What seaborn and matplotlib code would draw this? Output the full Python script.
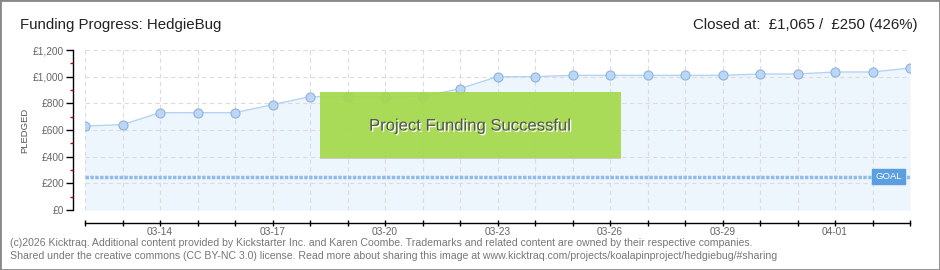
import matplotlib
matplotlib.use("Agg")
import matplotlib.pyplot as plt
import matplotlib.patheffects as pe
from matplotlib.patches import Rectangle
from matplotlib.transforms import blended_transform_factory
import seaborn as sns
import pandas as pd

# ---- data ----
dates = ["03-12", "03-13", "03-14", "03-15", "03-16", "03-17", "03-18", "03-19",
         "03-20", "03-21", "03-22", "03-23", "03-24", "03-25", "03-26", "03-27",
         "03-28", "03-29", "03-30", "03-31", "04-01", "04-02", "04-03"]
pledged = [630, 640, 730, 730, 730, 790, 850, 850, 850, 850, 910, 1000, 1000,
           1010, 1010, 1010, 1010, 1010, 1020, 1020, 1035, 1035, 1065]
labeled_dates = ["03-14", "03-17", "03-20", "03-23", "03-26", "03-29", "04-01"]
goal = 250
y_ticks = [0, 200, 400, 600, 800, 1000, 1200]
y_tick_labels = ["£0", "£200", "£400", "£600", "£800", "£1,000", "£1,200"]
y_minor = [100, 300, 500, 700, 900, 1100]
title = "Funding Progress: HedgieBug"
status = "Closed at:  £1,065 /  £250 (426%)"
footer1 = ("(c)2026 Kicktraq. Additional content provided by Kickstarter Inc. and Karen Coombe. "
           "Trademarks and related content are owned by their respective companies.")
footer2 = ("Shared under the creative commons (CC BY-NC 3.0) license. Read more about sharing this "
           "image at www.kicktraq.com/projects/koalapinproject/hedgiebug/#sharing")

df = pd.DataFrame({"day": list(range(len(dates))), "date": dates, "pledged": pledged})

sns.set_theme(style="white")
plt.rcParams["font.family"] = ["Liberation Sans", "DejaVu Sans"]

fig = plt.figure(figsize=(9.4, 2.7), dpi=100)
ax = fig.add_axes([85 / 940, 60 / 270, 825 / 940, 160 / 270])

ax.fill_between(df["day"], df["pledged"], 0, color="#edf5fd", zorder=0.5, linewidth=0)
sns.lineplot(data=df, x="day", y="pledged", ax=ax, color="#b5d3f3", linewidth=1,
             marker="o", markersize=6.5, markerfacecolor="#bcd7f5",
             markeredgecolor="#8fb2dc", markeredgewidth=0.8, zorder=3)

ax.axhline(goal, color="#93bbe8", linewidth=2.5, dashes=(1.0, 0.4), zorder=2.5)

ax.set_xlim(0, len(dates) - 1)
ax.set_ylim(0, 1200)
ax.set_axisbelow("line")

ax.set_xticks(df["day"])
ax.set_xticklabels([d if d in labeled_dates else "" for d in dates])
ax.set_yticks(y_ticks)
ax.set_yticklabels(y_tick_labels)
ax.set_yticks(y_minor, minor=True)

ax.grid(True, which="major", color="#dcdcdc", linestyle=(0, (4, 3)), linewidth=0.8)

for s in ["top", "right"]:
    ax.spines[s].set_visible(False)
for s in ["left", "bottom"]:
    ax.spines[s].set_position(("outward", 9))
    ax.spines[s].set_color("black")
    ax.spines[s].set_linewidth(1)

ax.tick_params(axis="y", which="major", direction="out", length=5, width=1,
               color="black", labelsize=7.3, labelcolor="#666666", pad=1, left=True)
ax.tick_params(axis="y", which="minor", direction="out", length=2.5, width=1,
               color="#e00000", left=True)
ax.tick_params(axis="x", which="major", direction="inout", length=5, width=1,
               color="black", labelsize=7.3, labelcolor="#666666", pad=0.5, bottom=True)

ax.set_xlabel("")
ax.set_ylabel("")
fig.text(25 / 940, 1 - 130 / 270, "PLEDGED", rotation=90, ha="center", va="center",
         fontsize=6.8, color="#555555")

# goal label
tr = blended_transform_factory(ax.transAxes, ax.transData)
ax.text(0.99, goal, "GOAL", transform=tr, ha="right", va="center", fontsize=6.8,
        color="white", zorder=5,
        bbox=dict(boxstyle="square,pad=0.3", facecolor="#5b9fe0", edgecolor="#5b9fe0"))

# success banner
ax.add_patch(Rectangle((0.285, 0.325), 0.365, 0.4125, transform=ax.transAxes,
                       facecolor="#a4d94c", edgecolor="none", alpha=0.93, zorder=6))
ax.add_patch(Rectangle((0.285, 0.318), 0.365, 0.008, transform=ax.transAxes,
                       facecolor="#c9ccbf", edgecolor="none", zorder=6))
ax.text(0.467, 0.525, "Project Funding Successful", transform=ax.transAxes,
        ha="center", va="center", fontsize=12, color="#555555", zorder=7,
        path_effects=[pe.SimplePatchShadow(offset=(1, -1), shadow_rgbFace="white", alpha=1.0),
                      pe.Normal()])

fig.text(20 / 940, 1 - 25 / 270, title, ha="left", va="center", fontsize=10.8, color="#222222")
fig.text(918 / 940, 1 - 25 / 270, status, ha="right", va="center", fontsize=10.8, color="#222222")
fig.text(10 / 940, 1 - 243 / 270, footer1, ha="left", va="center", fontsize=7.55, color="#777777")
fig.text(10 / 940, 1 - 256 / 270, footer2, ha="left", va="center", fontsize=7.55, color="#777777")

fig.patches.append(Rectangle((0, 0), 1, 1, transform=fig.transFigure, fill=False,
                             edgecolor="#888888", linewidth=2))

fig.savefig("out.png", dpi=100)
